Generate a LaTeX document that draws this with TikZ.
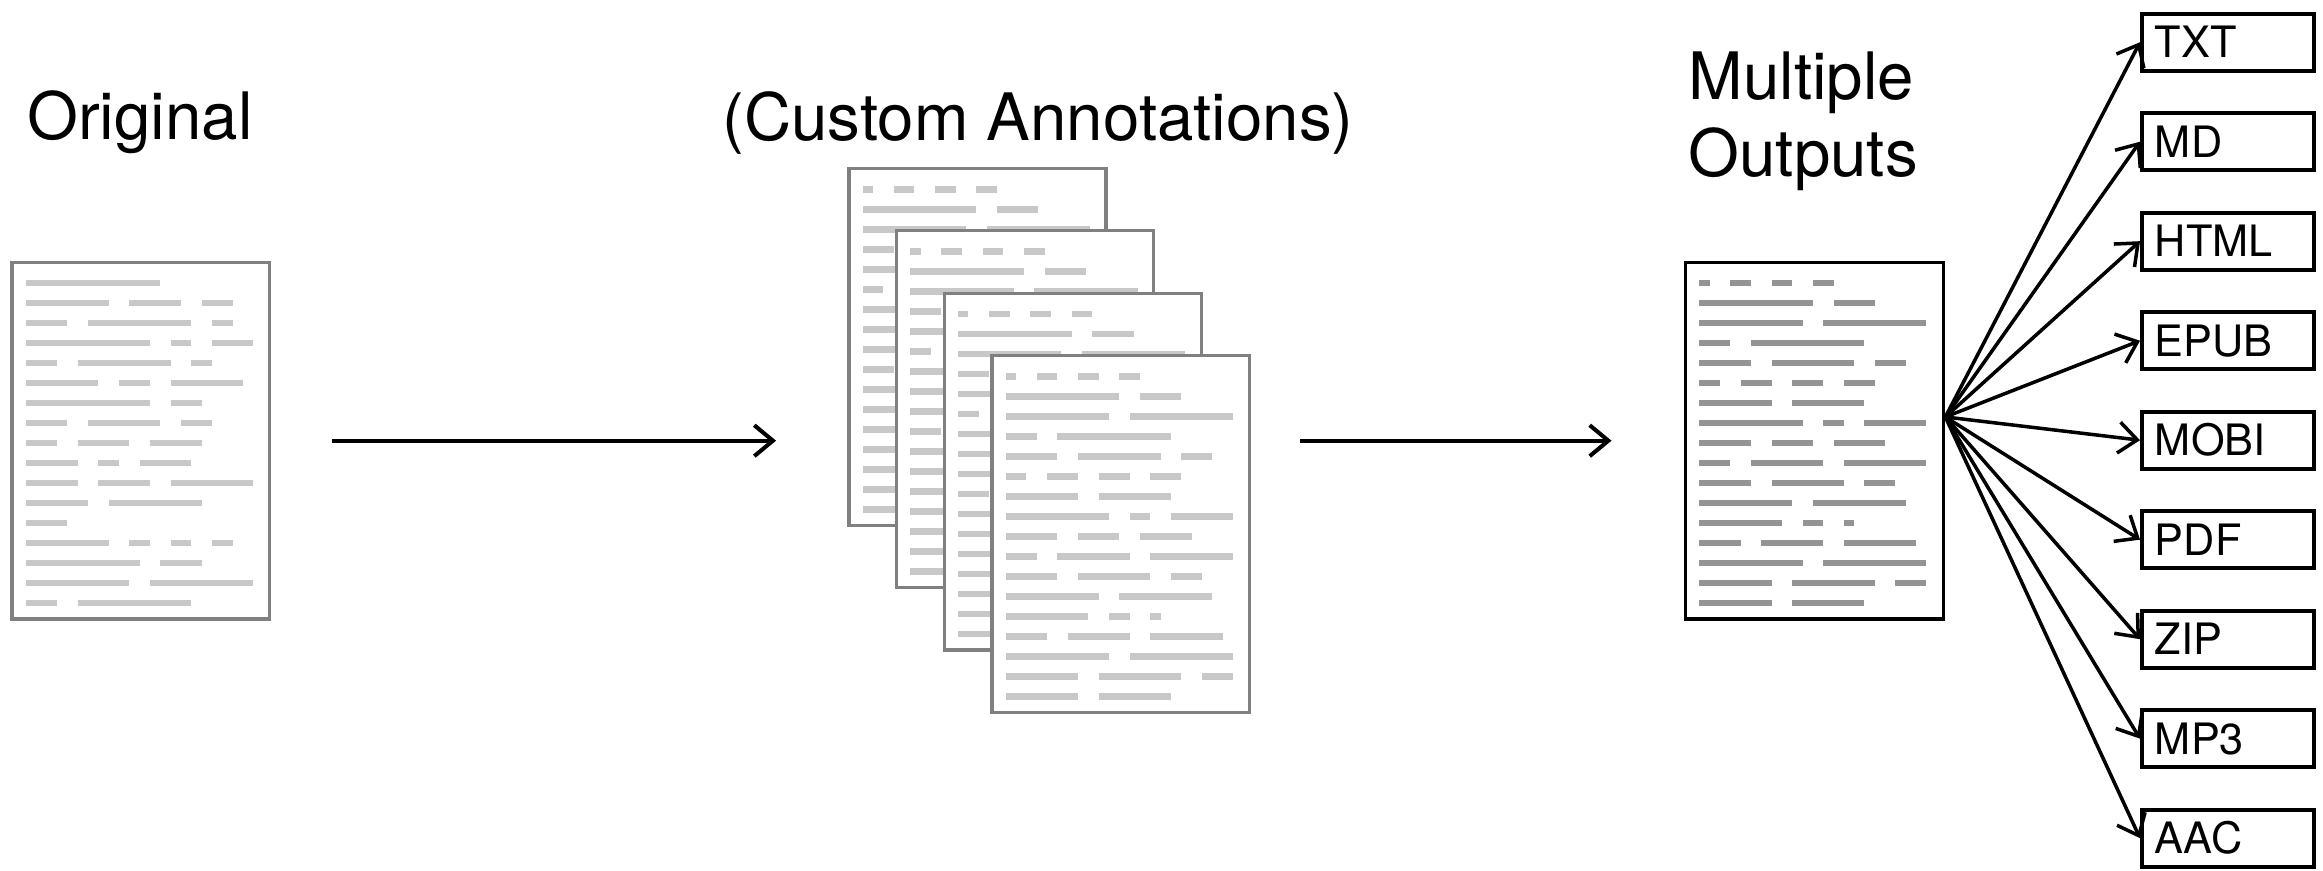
\documentclass[tikz,border=0pt]{standalone}
\usepackage{fontspec}
\setmainfont{TeX Gyre Heros}
\usetikzlibrary{arrows.meta}

\definecolor{lightbar}{gray}{0.785}
\definecolor{darkbar}{gray}{0.58}
\definecolor{pageborder}{gray}{0.5}

% word lengths (in units) of each text row, words separated by 2 units
\def\origrows{{13},{8,5,3},{4,10,2},{12,2,4},{3,9,2},{7,3,7},{12,3},{4,7,3},{3,5,5},{5,2,5},{5,5,8},{6,9},{4},{8,2,2,2},{11,4},{10,10},{3,11}}
\def\outrows{{1,2,2,2},{11,4},{10,10},{3,11},{5,8,3},{2,3,3,3},{7,7},{10,2,6},{5,4,5},{3,7,8},{5,7,3},{9,9},{8,2,1},{4,6,7},{10,10},{7,8,3},{7,7}}

\newcommand\docrowcmd[4]{%
  \gdef\rowpos{0}%
  \foreach \w in #3 {%
    \fill[#4] ({#1+\rowpos*10.33},{#2-3.4}) rectangle ++({\w*10.33},6.8);
    \pgfmathsetmacro\tmpnext{\rowpos+\w+2}%
    \global\let\rowpos\tmpnext
  }%
}
\newcommand\drawrows[4]{%
  \foreach \rowlist [count=\ri from 0] in #4 {%
    \docrowcmd{#1+13.6}{#2+20.7+20*\ri}{\rowlist}{#3}%
  }%
}

\begin{document}
\begin{tikzpicture}[x=0.01cm, y=-0.01cm,
  docbox/.style={draw=pageborder, line width=0.95pt, fill=white, inner sep=0pt,
                 minimum width=2.57cm, minimum height=3.566cm},
  outdoc/.style={docbox, draw=black, minimum width=2.58cm},
  fmtbox/.style={draw=black, line width=1.1pt, inner xsep=0.13cm, inner ysep=0pt,
                 minimum height=0.57cm, text width=1.46cm, align=left,
                 text height=0.31cm, text depth=0pt,
                 font=\fontsize{12.3pt}{14pt}\selectfont},
  title/.style={inner sep=0pt, font=\fontsize{18.6pt}{21.9pt}\selectfont},
  flow/.style={line width=1.15pt, -{Straight Barb[length=5.3pt,width=8.8pt]}},
  fanarrow/.style={line width=1pt, -{Straight Barb[length=5.3pt,width=8.8pt]}}
]
\useasboundingbox (0,0) rectangle (2323,871);

% titles
\node[title, anchor=base west] (torig) at (26.5,140) {Original};
\node[title, anchor=base] (tcustom) at (1038,141) {(Custom Annotations)};
\node[title, anchor=base west, align=left] (tout) at (1688,176.7) {Multiple\\Outputs};

% original document
\node[docbox] (orig) at (140.7,440.7) {};
\drawrows{12.3}{262.4}{lightbar}{\origrows}

% stack of annotated pages
\foreach \k in {0,1,2,3}{
  \node[docbox] (page\k) at ({977.5+47.7*\k},{346.8+62.4*\k}) {};
  \drawrows{849+47.7*\k}{168.5+62.4*\k}{lightbar}{\outrows}
}
\node[inner sep=0pt, minimum width=4.001cm, minimum height=5.444cm] (stack) at (1049,440.7) {};

% output document
\node[outdoc] (out) at (1814.6,440.7) {};
\drawrows{1685.6}{262.4}{darkbar}{\outrows}

% main arrows
\draw[flow, shorten <=0.61cm, shorten >=0.72cm] (orig.east) -- (stack.west);
\draw[flow, shorten <=0.502cm, shorten >=0.723cm] (stack.east) -- (out.west);

% output formats
\node[fmtbox] (txt)  at (2228,42.2)  {TXT};
\node[fmtbox] (md)   at (2228,141.7) {MD};
\node[fmtbox] (html) at (2228,241.2) {HTML};
\node[fmtbox] (epub) at (2228,340.7) {EPUB};
\node[fmtbox] (mobi) at (2228,440.2) {MOBI};
\node[fmtbox] (pdf)  at (2228,539.7) {PDF};
\node[fmtbox] (zip)  at (2228,639.2) {ZIP};
\node[fmtbox] (mp3)  at (2228,738.7) {MP3};
\node[fmtbox] (aac)  at (2228,838.2) {AAC};

\coordinate (fanorigin) at ([yshift=0.237cm]out.east);
\foreach \b in {txt,md,html,epub,mobi,pdf,zip,mp3,aac}
  \draw[fanarrow] (fanorigin) -- (\b.west);
\end{tikzpicture}
\end{document}
